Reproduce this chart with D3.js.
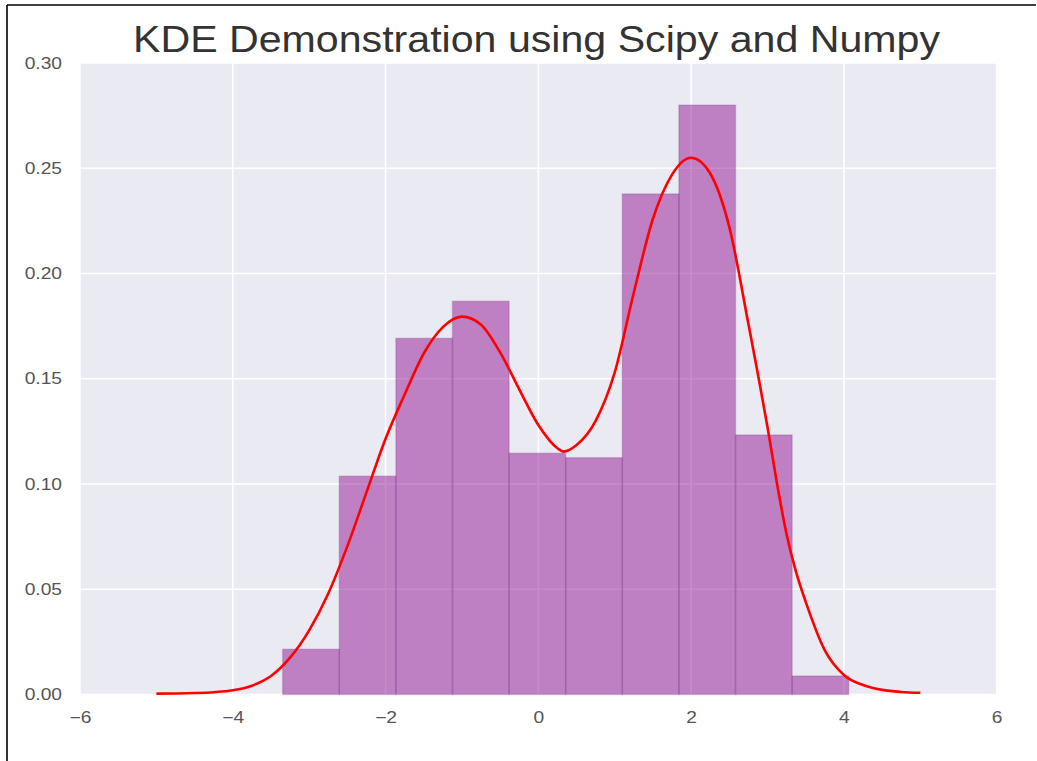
<!DOCTYPE html>
<html>
<head>
<meta charset="utf-8">
<script src="https://cdn.jsdelivr.net/npm/d3@7"></script>
<style>
  html, body { margin: 0; padding: 0; background: #fff; }
  svg { display: block; }
  text { font-family: "Liberation Sans", Arial, sans-serif; }
</style>
</head>
<body>
<svg id="chart" width="1037" height="761"></svg>
<script>
// Histogram bin edges and normalized densities
const binEdges = [-3.347, -2.606, -1.865, -1.124, -0.383, 0.358, 1.099, 1.840, 2.581, 3.322, 4.063];
const binDensity = [0.0215, 0.1037, 0.1692, 0.1868, 0.1146, 0.1125, 0.2378, 0.2800, 0.1233, 0.0088];

// Gaussian KDE evaluated on a grid
const kdeX = [-5.0, -4.75, -4.5, -4.25, -4.0, -3.75, -3.5, -3.25, -3.0, -2.75, -2.5, -2.25, -2.0, -1.75, -1.5, -1.25, -1.0,
              -0.75, -0.5, -0.25, 0.0, 0.25, 0.33, 0.5, 0.75, 1.0, 1.25, 1.5, 1.75, 2.0, 2.25, 2.5, 2.75, 2.875,
              3.0, 3.125, 3.25, 3.375, 3.5, 3.75, 4.0, 4.25, 4.5, 4.75, 5.0];
const kdeY = [0.0004, 0.0005, 0.0007, 0.0011, 0.0020, 0.0042, 0.0088, 0.0175, 0.0305, 0.0480, 0.0705, 0.0960, 0.1215, 0.1425, 0.1620, 0.1745, 0.1795,
              0.1757, 0.1625, 0.1450, 0.1280, 0.1170, 0.1154, 0.1185, 0.1300, 0.1530, 0.1910, 0.2260, 0.2470, 0.2550, 0.2475, 0.2220, 0.1760, 0.1520,
              0.1270, 0.1000, 0.0760, 0.0580, 0.0440, 0.0210, 0.0093, 0.0045, 0.0022, 0.0012, 0.0008];

const xTicks = [-6, -4, -2, 0, 2, 4, 6];
const yTicks = [0.00, 0.05, 0.10, 0.15, 0.20, 0.25, 0.30];
const title = "KDE Demonstration using Scipy and Numpy";

const svg = d3.select("#chart");

// frame lines around the figure
svg.append("line").attr("x1", 7).attr("y1", 5).attr("x2", 7).attr("y2", 761)
  .attr("stroke", "#000").attr("stroke-width", 1.6);
svg.append("line").attr("x1", 7).attr("y1", 5).attr("x2", 1036).attr("y2", 5)
  .attr("stroke", "#000").attr("stroke-width", 1.6);

const x = d3.scaleLinear().domain([-6, 6]).range([80, 996.7]);
const y = d3.scaleLinear().domain([0, 0.3]).range([694.5, 63]);

// plot background
svg.append("rect")
  .attr("x", x(-6)).attr("y", y(0.3))
  .attr("width", x(6) - x(-6)).attr("height", y(0) - y(0.3))
  .attr("fill", "#EAEAF2");

// grid
const grid = svg.append("g");
grid.selectAll("line.gx").data(xTicks).join("line")
  .attr("x1", d => x(d)).attr("x2", d => x(d))
  .attr("y1", y(0.3)).attr("y2", y(0))
  .attr("stroke", "#fff").attr("stroke-width", 1.6);
grid.selectAll("line.gy").data(yTicks).join("line")
  .attr("x1", x(-6)).attr("x2", x(6))
  .attr("y1", d => y(d)).attr("y2", d => y(d))
  .attr("stroke", "#fff").attr("stroke-width", 1.6);

// histogram bars
const bins = binDensity.map((v, i) => ({ x0: binEdges[i], x1: binEdges[i + 1], v }));
svg.append("g").selectAll("rect").data(bins).join("rect")
  .attr("x", d => x(d.x0))
  .attr("y", d => y(d.v))
  .attr("width", d => x(d.x1) - x(d.x0))
  .attr("height", d => y(0) - y(d.v))
  .attr("fill", "rgb(148,22,148)")
  .attr("fill-opacity", 0.5)
  .attr("stroke", "rgb(120,40,130)")
  .attr("stroke-opacity", 0.22)
  .attr("stroke-width", 1.5);

// KDE curve
const pts = kdeX.map((v, i) => [v, kdeY[i]]);
const line = d3.line().x(d => x(d[0])).y(d => y(d[1])).curve(d3.curveMonotoneX);
svg.append("path").datum(pts)
  .attr("d", line)
  .attr("fill", "none")
  .attr("stroke", "#ff0000")
  .attr("stroke-width", 2.6)
  .attr("stroke-linejoin", "round");

// axes tick labels (glyphs drawn slightly wide)
const xAxis = d3.axisBottom(x).tickValues(xTicks).tickSize(0).tickPadding(17)
  .tickFormat(d => d < 0 ? "\u2212" + Math.abs(d) : String(d));
const gx = svg.append("g").attr("transform", `translate(0,${y(0)})`).call(xAxis);
gx.select(".domain").remove();
gx.selectAll("text").attr("fill", "#555").style("font-size", "16px")
  .style("font-family", "'Liberation Sans', Arial, sans-serif")
  .attr("text-anchor", "middle")
  .attr("x", 0)
  .attr("transform", "scale(1.2,1)");

const yAxis = d3.axisLeft(y).tickValues(yTicks).tickSize(0).tickPadding(0)
  .tickFormat(d3.format(".2f"));
const gy = svg.append("g").attr("transform", `translate(${x(-6) - 18},0)`).call(yAxis);
gy.select(".domain").remove();
gy.selectAll("text").attr("fill", "#555").style("font-size", "16px")
  .style("font-family", "'Liberation Sans', Arial, sans-serif")
  .attr("x", 0)
  .attr("transform", "scale(1.2,1)");

// title
svg.append("text")
  .attr("x", 133)
  .attr("y", 52)
  .attr("textLength", 807)
  .attr("lengthAdjust", "spacingAndGlyphs")
  .attr("fill", "#333")
  .style("font-size", "36px")
  .text(title);
</script>
</body>
</html>
